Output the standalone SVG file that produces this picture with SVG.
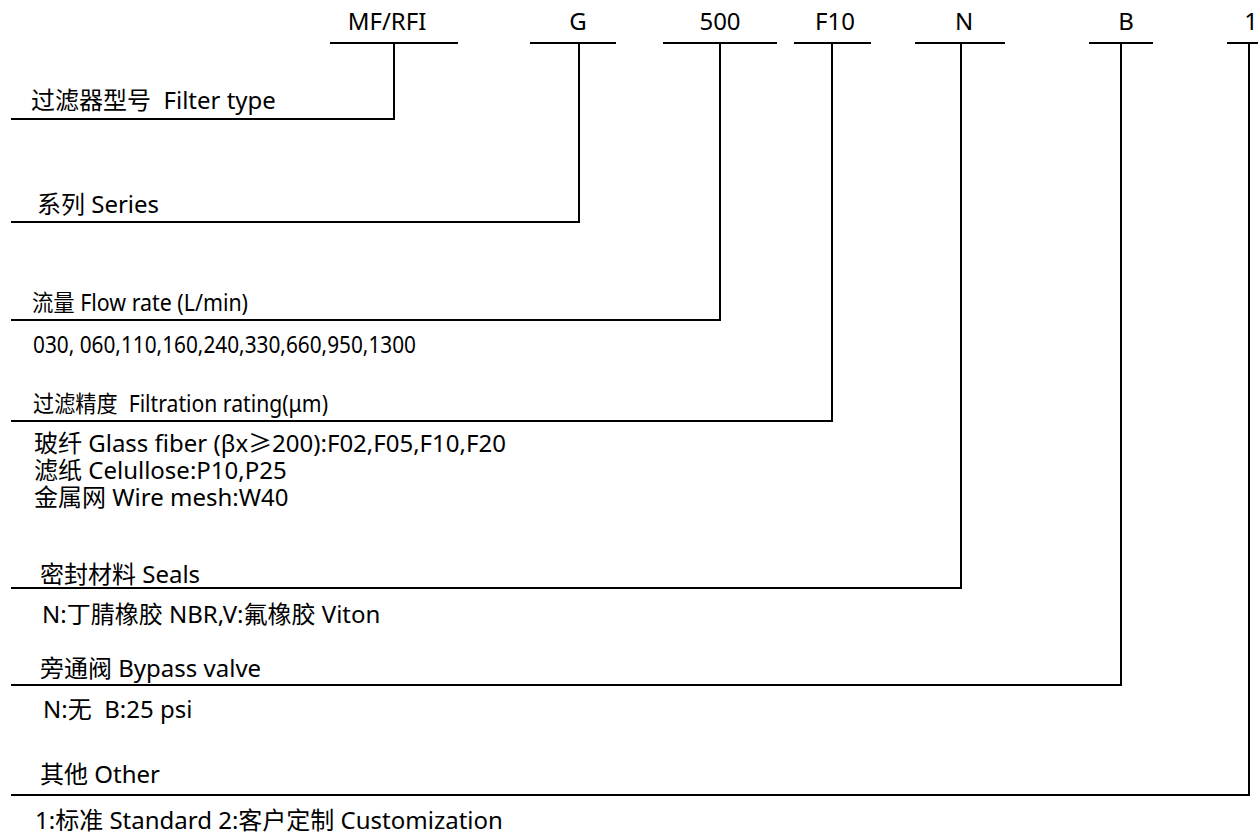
<svg xmlns="http://www.w3.org/2000/svg" width="1258" height="835" viewBox="0 0 1258 835">
<style>
text{font-family:"Noto Sans","Noto Sans CJK SC",sans-serif;font-size:24px;fill:#000}
.h{text-anchor:middle}
.s{font-size:23px}
.ln{fill:none;stroke:#000;stroke-width:2}
</style>
<rect width="1258" height="835" fill="#fff"/>
<g id="codes">
<g id="code-mf"><text class="h" x="387" y="30">MF/RFI</text><line class="ln" x1="330" y1="43" x2="458" y2="43"/></g>
<g id="code-g"><text class="h" x="578" y="30">G</text><line class="ln" x1="530" y1="43" x2="616" y2="43"/></g>
<g id="code-500"><text class="h" x="720" y="30">500</text><line class="ln" x1="663" y1="43" x2="777" y2="43"/></g>
<g id="code-f10"><text class="h" x="835" y="30">F10</text><line class="ln" x1="794" y1="43" x2="871" y2="43"/></g>
<g id="code-n"><text class="h" x="964" y="30">N</text><line class="ln" x1="915" y1="43" x2="1005" y2="43"/></g>
<g id="code-b"><text class="h" x="1126" y="30">B</text><line class="ln" x1="1089" y1="43" x2="1153" y2="43"/></g>
<g id="code-1"><text class="h" x="1251" y="30">1</text><line class="ln" x1="1227" y1="43" x2="1258" y2="43"/></g>
</g>
<g id="connectors">
<polyline class="ln" points="394,43 394,119 11,119"/>
<polyline class="ln" points="579,43 579,222 11,222"/>
<polyline class="ln" points="720,43 720,320 11,320"/>
<polyline class="ln" points="832,43 832,421 11,421"/>
<polyline class="ln" points="961,43 961,588 11,588"/>
<polyline class="ln" points="1121,43 1121,685 11,685"/>
<polyline class="ln" points="1249,43 1249,795 11,795"/>
</g>
<g id="filter-type"><text x="31" y="109" xml:space="preserve">过滤器型号  Filter type</text></g>
<g id="series"><text x="37" y="213">系列 Series</text></g>
<g id="flow-rate"><text class="s" x="32" y="311" textLength="216" lengthAdjust="spacingAndGlyphs">流量 Flow rate (L/min)</text><text class="s" x="33" y="353" textLength="383" lengthAdjust="spacingAndGlyphs">030, 060,110,160,240,330,660,950,1300</text></g>
<g id="filtration"><text class="s" x="33" y="412" xml:space="preserve" textLength="295" lengthAdjust="spacingAndGlyphs">过滤精度  Filtration rating(μm)</text>
<text x="34" y="452">玻纤 Glass fiber (βx≥200):F02,F05,F10,F20</text>
<text x="34" y="479">滤纸 Celullose:P10,P25</text>
<text x="34" y="506">金属网 Wire mesh:W40</text></g>
<g id="seals"><text x="40" y="583">密封材料 Seals</text><text x="42" y="623">N:丁腈橡胶 NBR,V:氟橡胶 Viton</text></g>
<g id="bypass"><text x="40" y="677">旁通阀 Bypass valve</text><text x="43" y="718" xml:space="preserve">N:无  B:25 psi</text></g>
<g id="other"><text x="40" y="783">其他 Other</text><text x="35" y="829">1:标准 Standard 2:客户定制 Customization</text></g>
</svg>
